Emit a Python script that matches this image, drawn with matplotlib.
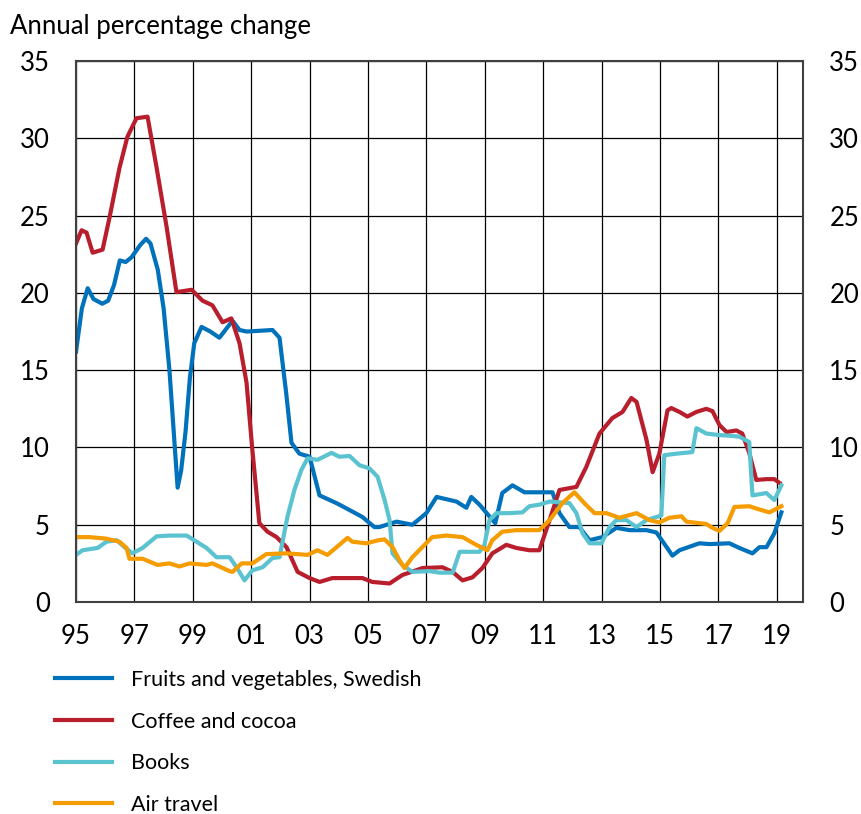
import matplotlib.pyplot as plt

# values (decimal year, annual % change)
fruit_x = [1995.0, 1995.2, 1995.4, 1995.6, 1995.9, 1996.1, 1996.3, 1996.5, 1996.7, 1996.9,
           1997.2, 1997.4, 1997.55, 1997.8, 1998.0, 1998.2, 1998.48, 1998.6, 1998.75, 1998.9,
           1999.05, 1999.3, 1999.6, 1999.91, 2000.36, 2000.6, 2000.84, 2001.3, 2001.73, 2001.97,
           2002.2, 2002.38, 2002.65, 2003.0, 2003.34, 2003.92, 2004.37, 2004.81, 2005.22, 2005.39,
           2005.98, 2006.52, 2007.0, 2007.35, 2008.03, 2008.37, 2008.54, 2008.82, 2009.36, 2009.6,
           2009.95, 2010.36, 2010.53, 2011.32, 2011.56, 2011.9, 2012.24, 2012.59, 2013.03, 2013.51,
           2013.96, 2014.54, 2014.88, 2015.23, 2015.43, 2015.67, 2016.35, 2016.7, 2017.38, 2017.72,
           2018.17, 2018.41, 2018.65, 2018.92, 2019.16]
fruit_y = [16.2, 19.0, 20.3, 19.6, 19.3, 19.5, 20.5, 22.1, 22.0, 22.3,
           23.1, 23.5, 23.2, 21.5, 19.0, 15.0, 7.4, 8.5, 11.0, 14.5,
           16.75, 17.8, 17.5, 17.1, 18.2, 17.6, 17.5, 17.55, 17.6, 17.1,
           13.5, 10.3, 9.6, 9.4, 6.9, 6.4, 5.95, 5.5, 4.85, 4.85,
           5.2, 5.0, 5.75, 6.8, 6.5, 6.1, 6.8, 6.3, 5.1, 7.05,
           7.55, 7.1, 7.1, 7.1, 5.75, 4.85, 4.85, 4.0, 4.2, 4.8,
           4.65, 4.65, 4.5, 3.55, 3.0, 3.35, 3.8, 3.75, 3.8, 3.5,
           3.15, 3.55, 3.55, 4.45, 5.8]

coffee_x = [1995.0, 1995.19, 1995.36, 1995.57, 1995.91, 1996.15, 1996.49, 1996.76, 1997.07, 1997.45,
            1997.76, 1998.1, 1998.44, 1998.96, 1999.33, 1999.67, 2000.02, 2000.32, 2000.6, 2000.84,
            2001.04, 2001.28, 2001.56, 2001.87, 2002.21, 2002.59, 2003.0, 2003.34, 2003.78, 2004.47,
            2004.81, 2005.15, 2005.74, 2006.18, 2006.87, 2007.55, 2007.9, 2008.24, 2008.58, 2008.92,
            2009.26, 2009.74, 2010.08, 2010.53, 2010.87, 2011.22, 2011.56, 2012.14, 2012.48, 2012.93,
            2013.37, 2013.72, 2014.02, 2014.2, 2014.54, 2014.75, 2014.98, 2015.26, 2015.39, 2015.67,
            2015.94, 2016.25, 2016.59, 2016.8, 2017.04, 2017.28, 2017.62, 2017.82, 2018.06, 2018.3,
            2018.65, 2018.92, 2019.1]
coffee_y = [23.2, 24.05, 23.9, 22.6, 22.8, 24.9, 28.1, 30.1, 31.3, 31.4,
            28.1, 24.3, 20.05, 20.2, 19.5, 19.2, 18.1, 18.35, 16.75, 14.2,
            9.85, 5.1, 4.55, 4.2, 3.55, 1.95, 1.55, 1.3, 1.55, 1.55,
            1.55, 1.3, 1.2, 1.75, 2.2, 2.25, 1.95, 1.4, 1.6, 2.2,
            3.15, 3.7, 3.5, 3.35, 3.35, 5.3, 7.25, 7.45, 8.75, 10.9,
            11.9, 12.3, 13.2, 12.95, 10.5, 8.4, 9.6, 12.4, 12.55, 12.3,
            12.0, 12.3, 12.5, 12.35, 11.45, 11.0, 11.1, 10.9, 9.65, 7.9,
            7.95, 7.95, 7.7]

books_x = [1995.0, 1995.22, 1995.74, 1996.04, 1996.39, 1996.66, 1996.93, 1997.28, 1997.76, 1998.2,
           1998.79, 1999.13, 1999.47, 1999.81, 2000.26, 2000.5, 2000.77, 2001.04, 2001.39, 2001.73,
           2001.97, 2002.24, 2002.48, 2002.72, 2002.93, 2003.27, 2003.75, 2004.02, 2004.37, 2004.71,
           2005.05, 2005.33, 2005.57, 2005.74, 2005.84, 2006.18, 2006.52, 2007.1, 2007.45, 2007.9,
           2008.14, 2008.82, 2008.99, 2009.16, 2009.4, 2009.85, 2010.29, 2010.53, 2010.87, 2011.22,
           2011.9, 2012.14, 2012.35, 2012.59, 2013.0, 2013.27, 2013.51, 2013.85, 2014.2, 2014.54,
           2014.88, 2015.05, 2015.15, 2015.57, 2016.11, 2016.25, 2016.59, 2017.04, 2017.45, 2017.72,
           2018.06, 2018.17, 2018.65, 2018.92, 2019.16]
books_y = [3.05, 3.35, 3.5, 3.9, 4.0, 3.55, 3.15, 3.5, 4.25, 4.3,
           4.3, 3.9, 3.5, 2.9, 2.9, 2.25, 1.4, 2.05, 2.25, 2.85,
           2.9, 5.5, 7.25, 8.55, 9.3, 9.2, 9.65, 9.4, 9.45, 8.85,
           8.65, 8.1, 6.6, 5.3, 3.15, 2.4, 1.95, 2.0, 1.9, 1.9,
           3.25, 3.25, 3.7, 5.3, 5.75, 5.75, 5.8, 6.2, 6.3, 6.5,
           6.4, 5.75, 4.45, 3.8, 3.8, 4.85, 5.3, 5.3, 4.85, 5.3,
           5.5, 5.6, 9.5, 9.6, 9.7, 11.25, 10.9, 10.8, 10.75, 10.7,
           10.35, 6.9, 7.05, 6.6, 7.55]

air_x = [1995.0, 1995.46, 1996.04, 1996.49, 1996.73, 1996.83, 1997.28, 1997.79, 1998.2, 1998.54,
         1998.89, 1999.47, 1999.67, 2000.26, 2000.36, 2000.67, 2001.04, 2001.52, 2002.21, 2002.93,
         2003.27, 2003.61, 2004.02, 2004.3, 2004.47, 2004.95, 2005.36, 2005.57, 2005.84, 2006.08,
         2006.25, 2006.52, 2007.2, 2007.69, 2008.24, 2008.71, 2009.09, 2009.26, 2009.6, 2010.08,
         2010.87, 2011.22, 2011.66, 2012.07, 2012.41, 2012.76, 2013.17, 2013.61, 2014.2, 2014.64,
         2014.98, 2015.32, 2015.74, 2015.91, 2016.59, 2016.8, 2017.04, 2017.32, 2017.55, 2018.06,
         2018.3, 2018.75, 2019.16]
air_y = [4.2, 4.2, 4.1, 3.9, 3.5, 2.8, 2.8, 2.4, 2.5, 2.3,
         2.5, 2.4, 2.5, 2.0, 1.95, 2.5, 2.5, 3.1, 3.15, 3.05,
         3.35, 3.05, 3.7, 4.15, 3.9, 3.8, 4.0, 4.05, 3.55, 2.7,
         2.2, 2.9, 4.2, 4.3, 4.2, 3.7, 3.35, 4.0, 4.55, 4.65,
         4.65, 5.3, 6.4, 7.1, 6.4, 5.75, 5.75, 5.45, 5.75, 5.3,
         5.15, 5.45, 5.55, 5.2, 5.05, 4.8, 4.6, 5.1, 6.15, 6.2,
         6.05, 5.8, 6.2]

tick_years = list(range(1995, 2020, 2))
tick_labels = [str(y)[2:] for y in tick_years]
y_ticks = [0, 5, 10, 15, 20, 25, 30, 35]

plt.rcParams['font.family'] = ['Lato', 'DejaVu Sans']

fig = plt.figure(figsize=(8.61, 8.14), dpi=100)
ax = fig.add_axes([0.0883, 0.2604, 0.8443, 0.6646])

ax.plot(fruit_x, fruit_y, color='#0072BB', lw=3, label='Fruits and vegetables, Swedish')
ax.plot(coffee_x, coffee_y, color='#B91E2D', lw=3, label='Coffee and cocoa')
ax.plot(books_x, books_y, color='#5BC2D0', lw=3, label='Books')
ax.plot(air_x, air_y, color='#F59C00', lw=3, label='Air travel')

ax.set_xlim(1995, 2019.9)
ax.set_ylim(0, 35)
ax.set_xticks(tick_years)
ax.set_xticklabels(tick_labels)
ax.set_yticks(y_ticks)
ax.grid(True, color='black', lw=0.9)
ax.set_axisbelow(True)
ax.tick_params(length=0, labelsize=18.5, pad=16)
ax.tick_params(axis='y', pad=19, right=True, labelright=True)
for s in ax.spines.values():
    s.set_color('#404040')
    s.set_linewidth(1.5)

fig.text(0.012, 0.967, 'Annual percentage change', fontsize=18.5, va='center', ha='left')

fig.legend(loc='upper left', bbox_to_anchor=(55 / 861, 1 - 670 / 814), frameon=False,
           fontsize=15.5, handlelength=2.65, handletextpad=0.9, labelspacing=1.0,
           borderpad=0, borderaxespad=0)

fig.savefig('out.png', dpi=100)
